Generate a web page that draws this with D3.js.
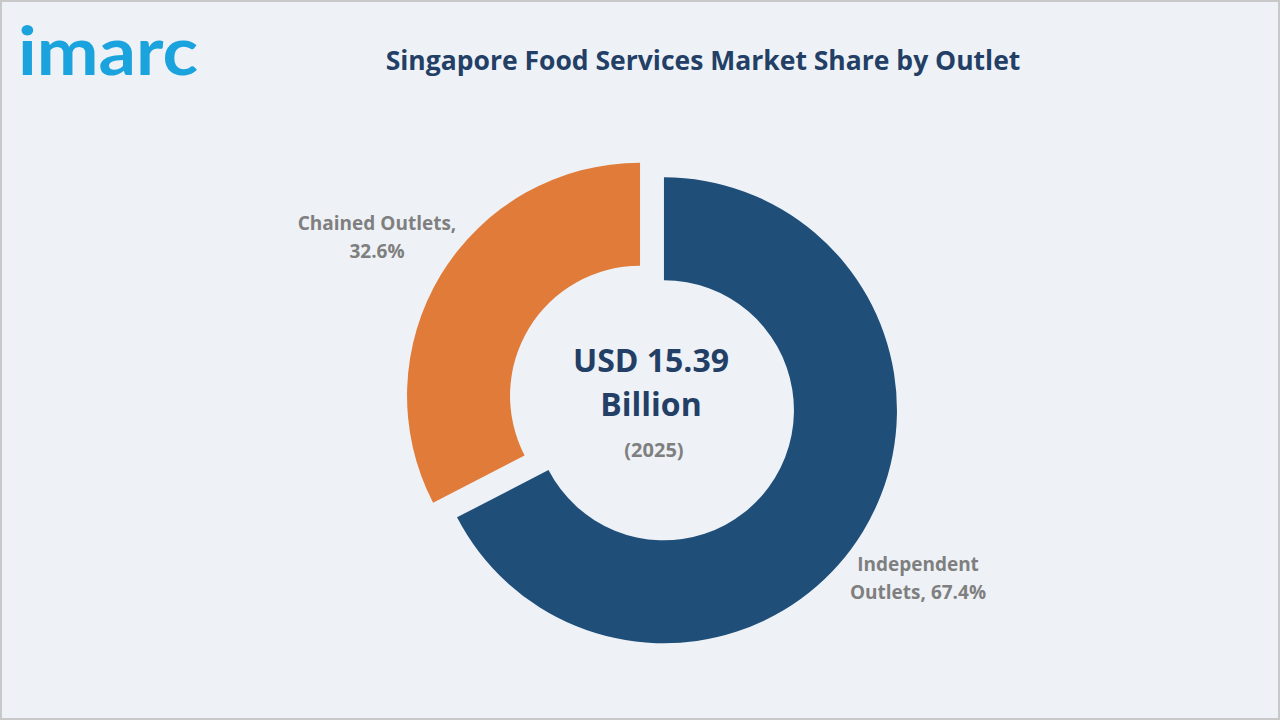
<!DOCTYPE html>
<html><head><meta charset="utf-8">
<script src="https://cdn.jsdelivr.net/npm/d3@7"></script>
<style>body{margin:0;background:#fff}svg{display:block}</style>
</head><body><svg id="c" width="1280" height="720"></svg>
<script>
const categories = ["Independent Outlets", "Chained Outlets"];
const values = [67.4, 32.6];
const colors = ["#1f4e79", "#e07b39"];
const title = "Singapore Food Services Market Share by Outlet";
const centerLines = ["USD 15.39", "Billion", "(2025)"];

const svg = d3.select("#c");
svg.append("rect").attr("x",1).attr("y",1).attr("width",1278).attr("height",718)
  .attr("fill","#eef2f7").attr("stroke","#c8c8c8").attr("stroke-width",2);
svg.append("text").attr("x",18).attr("y",75).attr("fill","#1ba3dd")
  .attr("font-family","Lato, sans-serif").attr("font-weight","bold").attr("font-size",66)
  .attr("textLength",180).attr("lengthAdjust","spacingAndGlyphs").text("imarc");
svg.append("text").attr("x",703).attr("y",70).attr("text-anchor","middle")
  .attr("fill","#233f66").attr("font-family","'Open Sans', sans-serif").attr("font-weight","bold")
  .attr("font-size",26.5).text(title);

const cx=652, cy=403, R=233, r=130, off=14;
const pie = d3.pie().sort(null).value(d=>d)(values);
const arc = d3.arc().innerRadius(r).outerRadius(R);
const g = svg.append("g").attr("transform",`translate(${cx},${cy})`);
pie.forEach((p,i)=>{
  const m=(p.startAngle+p.endAngle)/2;
  g.append("path").attr("d",arc(p)).attr("fill",colors[i])
   .attr("transform",`translate(${Math.sin(m)*off},${-Math.cos(m)*off})`);
});
const lf = "'Open Sans', sans-serif";
function lab(x,y,lines,anchor){
  const t=svg.append("text").attr("x",x).attr("y",y).attr("text-anchor",anchor)
   .attr("fill","#7f7f7f").attr("font-family",lf).attr("font-weight","bold").attr("font-size",19);
  lines.forEach((l,i)=>t.append("tspan").attr("x",x).attr("dy",i?28:0).text(l));
}
lab(918,571,["Independent","Outlets, "+values[0]+"%"],"middle");
lab(377,230,["Chained Outlets,",values[1]+"%"],"middle");
const ct=svg.append("text").attr("text-anchor","middle").attr("font-family",lf).attr("font-weight","bold");
ct.append("tspan").attr("x",651).attr("y",372).attr("font-size",32).attr("fill","#233f66").text(centerLines[0]);
ct.append("tspan").attr("x",651).attr("y",416).attr("font-size",32).attr("fill","#233f66").text(centerLines[1]);
ct.append("tspan").attr("x",654).attr("y",457).attr("font-size",20).attr("fill","#7f7f7f").text(centerLines[2]);
</script></body></html>
